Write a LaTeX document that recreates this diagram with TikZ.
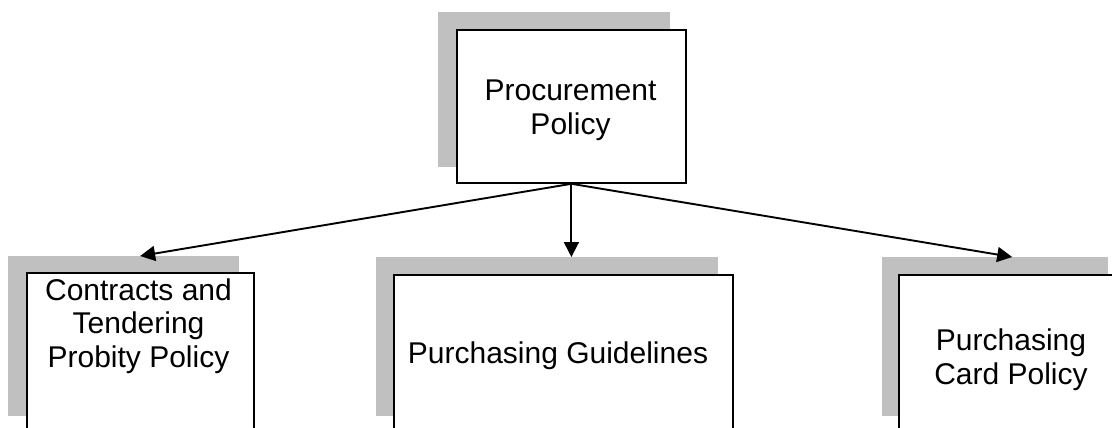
\documentclass[tikz,border=0pt]{standalone}
\usepackage{fontspec}
\setmainfont{Liberation Sans}
\usetikzlibrary{arrows.meta,calc}
\definecolor{shade}{RGB}{192,192,192}
\begin{document}
\begin{tikzpicture}[x=1pt,y=-1pt,
  shadowbox/.style={fill=shade,draw=none,inner sep=0pt,anchor=north west},
  policybox/.style={fill=white,draw=black,line width=1.8pt,inner sep=0pt,anchor=north west},
  boxtext/.style={align=center,font=\fontsize{30}{33.5}\selectfont,inner sep=0pt},
  conn/.style={line width=1.9pt,-{Triangle[length=15pt,width=15pt]}}]
\useasboundingbox (0,0) rectangle (1112,428);
\clip (0,0) rectangle (1112,428);
% top
\node[shadowbox,minimum width=232pt,minimum height=155pt] (tsh) at (438,12) {};
\node[policybox,minimum width=229pt,minimum height=153pt] (top) at (456,29) {};
\node[boxtext] (ttext) at (570.5,110.5) {Procurement\\Policy};
% left
\node[shadowbox,minimum width=231pt,minimum height=160pt] (lsh) at (8,256) {};
\node[policybox,minimum width=227pt,minimum height=160pt] (left) at (26,272) {};
\node[boxtext] (ltext) at (138.5,326) {Contracts and\\Tendering\\Probity Policy};
% middle
\node[shadowbox,minimum width=342pt,minimum height=159pt] (msh) at (376,257) {};
\node[policybox,minimum width=339pt,minimum height=160pt] (mid) at (393,274) {};
\node[boxtext] (mtext) at (558,356) {Purchasing Guidelines};
% right
\node[shadowbox,minimum width=226pt,minimum height=159pt] (rsh) at (882,257) {};
\node[policybox,minimum width=226pt,minimum height=160pt] (right) at (898,274) {};
\node[boxtext] (rtext) at (1011,359.5) {Purchasing\\Card Policy};
% connectors
\draw[conn] (top.south) -- ($(lsh.north west)!0.571!(lsh.north east)$);
\draw[conn] (top.south) -- (top.south |- msh.north);
\draw[conn] (top.south) -- ($(rsh.north west)!0.575!(rsh.north east)$);
\end{tikzpicture}
\end{document}
